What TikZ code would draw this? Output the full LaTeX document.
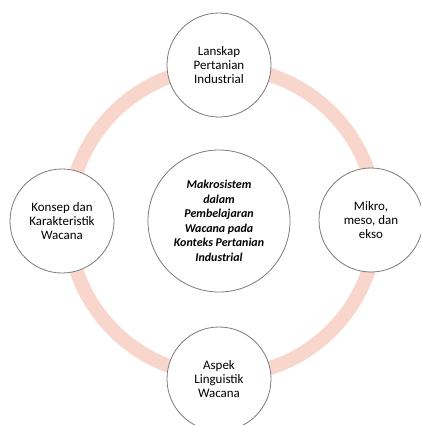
\documentclass[tikz,border=0pt]{standalone}
\usepackage{fontspec}
\setmainfont{Carlito}
\definecolor{ringpink}{HTML}{F9D6CC}
\definecolor{edgegray}{HTML}{7A7A7A}
\begin{document}
\begin{tikzpicture}[x=1bp,y=-1bp,
  outer/.style={circle,draw=edgegray,line width=0.8pt,fill=white,minimum size=104bp,inner sep=0pt,align=center,font=\fontsize{13}{14.3}\selectfont},
  hub/.style={circle,draw=edgegray,line width=0.8pt,fill=white,minimum size=142bp,inner sep=0pt,align=center,font=\fontsize{12}{14.6}\selectfont\bfseries\itshape}]
\useasboundingbox (0,0) rectangle (421,425);
\coordinate (rc) at (222.5,221.5);
\draw[ringpink,line width=14bp] (rc) circle[radius=154];
\node[hub] (c) at (219,221) {Makrosistem\\dalam\\Pembelajaran\\Wacana pada\\Konteks Pertanian\\Industrial};
\node[outer] (t) at (219,65) {Lanskap\\Pertanian\\Industrial};
\node[outer] (r) at (371,220) {Mikro,\\meso, dan\\ekso};
\node[outer] (b) at (219,379) {Aspek\\Linguistik\\Wacana};
\node[outer] (l) at (62,221) {Konsep dan\\Karakteristik\\Wacana};
\end{tikzpicture}
\end{document}
